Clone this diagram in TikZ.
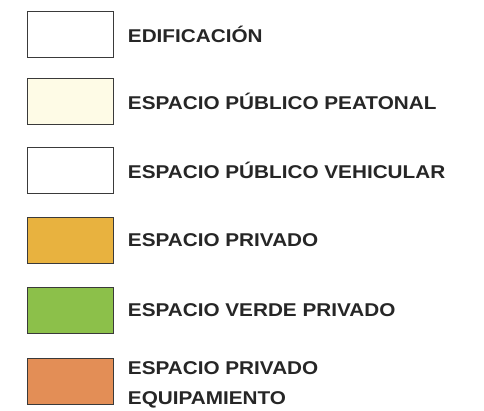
\documentclass[tikz,border=0pt]{standalone}
\usepackage{fontspec}
\setmainfont[FakeStretch=1.12]{Liberation Sans}
\definecolor{LegEdge}{HTML}{3A3A3A}
\definecolor{LegText}{HTML}{262626}
\definecolor{PeatonalFill}{HTML}{FEFBE6}
\definecolor{PrivadoFill}{HTML}{E8B23F}
\definecolor{VerdeFill}{HTML}{8CC04A}
\definecolor{EquipFill}{HTML}{E38E56}
\usetikzlibrary{positioning}

\begin{document}
\begin{tikzpicture}[x=1pt,y=-1pt,
  every node/.style={font=\fontsize{18.5}{30}\selectfont\bfseries,text=LegText},
  swatch/.style={draw=LegEdge,line width=0.8pt,minimum width=86pt,minimum height=46pt,inner sep=0pt}]
  \useasboundingbox (0,0) rectangle (484,411);
  \foreach \i/\y/\fill in {1/34/white,2/101/PeatonalFill,3/170/white,4/240.5/PrivadoFill,5/310.5/VerdeFill,6/381.5/EquipFill}
    \node[swatch,fill=\fill] (b\i) at (70,\y) {};
  \node[right=11pt of b1,anchor=west] (l1) {EDIFICACIÓN};
  \node[right=11pt of b2,anchor=west] (l2) {ESPACIO PÚBLICO PEATONAL};
  \node[right=11pt of b3,anchor=west] (l3) {ESPACIO PÚBLICO VEHICULAR};
  \node[right=11pt of b4,anchor=west] (l4) {ESPACIO PRIVADO};
  \node[right=11pt of b5,anchor=west] (l5) {ESPACIO VERDE PRIVADO};
  \node[right=11pt of b6,anchor=west,align=left,yshift=-3pt] (l6) {ESPACIO PRIVADO\\EQUIPAMIENTO};
\end{tikzpicture}
\end{document}
